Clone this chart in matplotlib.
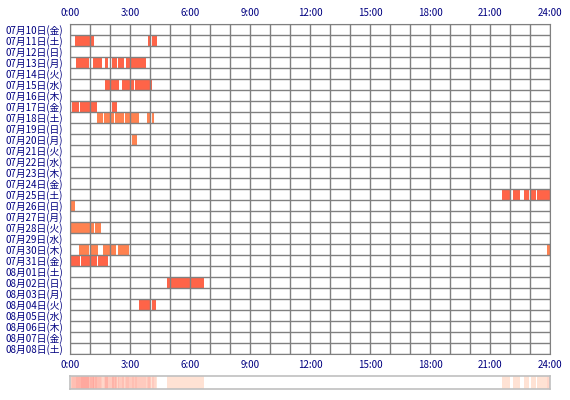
import matplotlib
matplotlib.use("Agg")
import matplotlib.pyplot as plt
import numpy as np

plt.rcParams["font.family"] = ["Noto Sans CJK JP", "DejaVu Sans"]

# one row per day, top to bottom
DAYS = [
    "07月10日(金)", "07月11日(土)", "07月12日(日)", "07月13日(月)", "07月14日(火)",
    "07月15日(水)", "07月16日(木)", "07月17日(金)", "07月18日(土)", "07月19日(日)",
    "07月20日(月)", "07月21日(火)", "07月22日(水)", "07月23日(木)", "07月24日(金)",
    "07月25日(土)", "07月26日(日)", "07月27日(月)", "07月28日(火)", "07月29日(水)",
    "07月30日(木)", "07月31日(金)", "08月01日(土)", "08月02日(日)", "08月03日(月)",
    "08月04日(火)", "08月05日(水)", "08月06日(木)", "08月07日(金)", "08月08日(土)",
]

# sleep segments: row index, start hour, end hour
SEG_DAY = [1, 1, 1,
           3, 3, 3, 3, 3, 3,
           5, 5, 5,
           7, 7, 7,
           8, 8, 8, 8, 8, 8,
           10,
           15, 15, 15, 15, 15,
           16,
           18, 18,
           20, 20, 20, 20, 20,
           21, 21, 21,
           23,
           25, 25]
SEG_START = [0.25, 3.90, 4.10,
             0.30, 1.15, 1.75, 2.08, 2.40, 2.80,
             1.75, 2.60, 3.25,
             0.08, 0.50, 2.10,
             1.35, 1.70, 2.25, 2.75, 3.85, 4.08,
             3.10,
             21.60, 22.15, 22.70, 23.05, 23.35,
             0.03,
             0.03, 1.25,
             0.45, 1.02, 1.65, 2.40, 23.85,
             0.03, 0.55, 1.40,
             4.85,
             3.45, 4.08]
SEG_END = [1.20, 4.07, 4.33,
           0.95, 1.60, 1.90, 2.35, 2.70, 3.78,
           2.45, 3.20, 4.08,
           0.45, 1.35, 2.35,
           1.63, 2.20, 2.70, 3.43, 4.02, 4.22,
           3.35,
           22.02, 22.50, 22.95, 23.30, 24.00,
           0.25,
           1.20, 1.53,
           0.95, 1.40, 2.30, 2.95, 24.00,
           0.50, 1.35, 1.90,
           6.68,
           4.03, 4.28]

# rows drawn in the lighter orange tone
ORANGE_DAYS = [8, 10, 16, 18, 20]

HOUR_TICKS = [0, 3, 6, 9, 12, 15, 18, 21, 24]
HOUR_LABELS = ["0:00", "3:00", "6:00", "9:00", "12:00", "15:00", "18:00", "21:00", "24:00"]

RED = "#FF6448"
ORANGE = "#FF8250"
GRID = "#808080"
NAVY = "#000080"

fig = plt.figure(figsize=(5.7, 4.0), dpi=100)
ax = fig.add_axes([70 / 570, 46 / 400, 480 / 570, 330 / 400])

for d, s, e in zip(SEG_DAY, SEG_START, SEG_END):
    c = ORANGE if d in ORANGE_DAYS else RED
    ax.barh(d + 0.5, e - s, left=s, height=1.0, color=c, linewidth=0, zorder=2)

for h in range(25):
    ax.axvline(h, color=GRID, lw=1.0, zorder=3)
for r in range(len(DAYS) + 1):
    ax.axhline(r, color=GRID, lw=1.0, zorder=3)

ax.set_xlim(0, 24)
ax.set_ylim(len(DAYS), 0)
ax.set_xticks(HOUR_TICKS)
ax.set_xticklabels(HOUR_LABELS)
ax.set_yticks(np.arange(len(DAYS)) + 0.5)
ax.set_yticklabels(DAYS)
ax.tick_params(axis="x", top=True, labeltop=True, bottom=True, labelbottom=True,
               length=0, pad=4, labelsize=7, labelcolor=NAVY)
ax.tick_params(axis="y", length=0, pad=5, labelsize=7, labelcolor=NAVY)
for sp in ax.spines.values():
    sp.set_color(GRID)

# summary strip: how many days were asleep at each minute
minutes = np.arange(0, 24 * 60) / 60.0 + 1 / 120
count = np.zeros_like(minutes)
for s, e in zip(SEG_START, SEG_END):
    count += (minutes >= s) & (minutes < e)
lo = np.array([255, 226, 212]) / 255
hi = np.array([255, 168, 158]) / 255
frac = np.clip((count - 1) / max(count.max() - 1, 1), 0, 1)
rgb = lo[None, :] * (1 - frac[:, None]) + hi[None, :] * frac[:, None]
rgb[count == 0] = 1.0

sx = fig.add_axes([70 / 570, 11 / 400, 480 / 570, 13 / 400])
sx.imshow(rgb[None, :, :], aspect="auto", extent=(0, 24, 0, 1), interpolation="nearest")
sx.set_xlim(0, 24)
sx.set_xticks([])
sx.set_yticks([])
for sp in sx.spines.values():
    sp.set_color("#C0C0C0")
    sp.set_linewidth(1.2)

fig.savefig("out.png", dpi=100)
